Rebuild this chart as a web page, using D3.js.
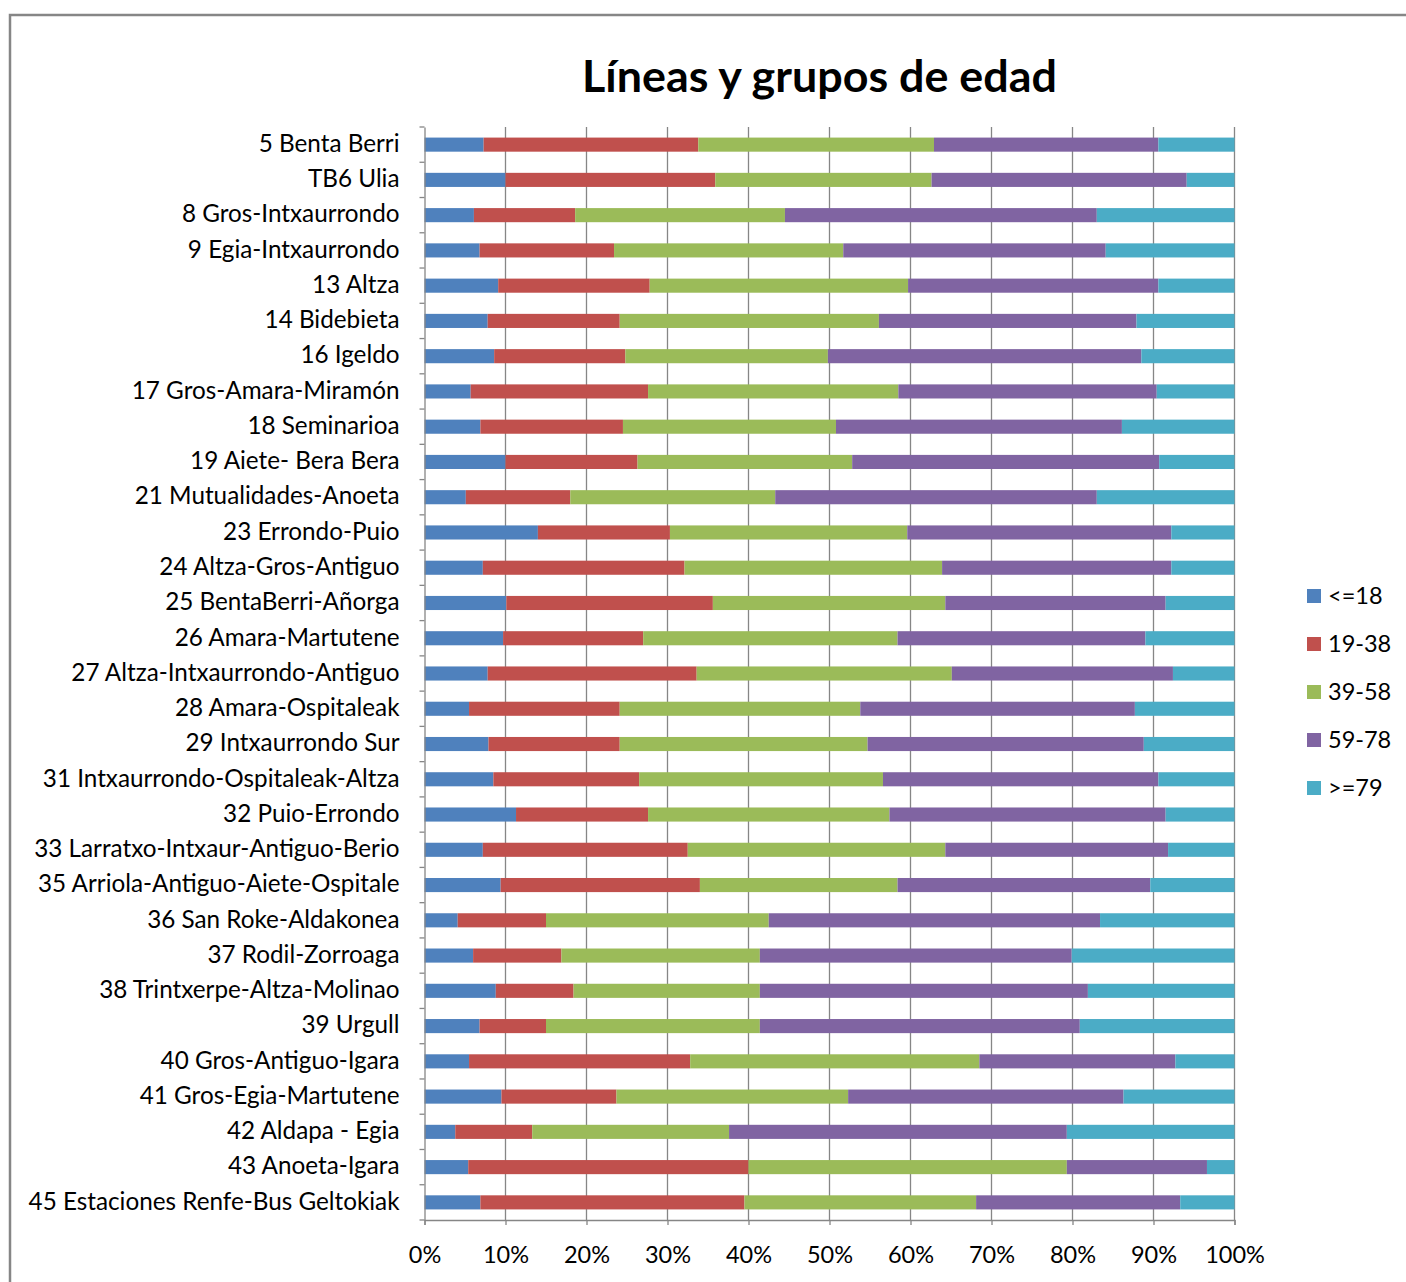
<!DOCTYPE html>
<html>
<head>
<meta charset="utf-8">
<script src="https://cdn.jsdelivr.net/npm/d3@7"></script>
<style>
  html, body { margin: 0; padding: 0; background: #fff; }
  svg { display: block; }
  text { font-family: Lato, "Open Sans", sans-serif; fill: #000; }
</style>
</head>
<body>
<svg id="chart" width="1406" height="1282"></svg>
<script>
const title = "Líneas y grupos de edad";
const categories = [
  "5 Benta Berri", "TB6 Ulia", "8 Gros-Intxaurrondo", "9 Egia-Intxaurrondo", "13 Altza",
  "14 Bidebieta", "16 Igeldo", "17 Gros-Amara-Miramón", "18 Seminarioa", "19 Aiete- Bera Bera",
  "21 Mutualidades-Anoeta", "23 Errondo-Puio", "24 Altza-Gros-Antiguo", "25 BentaBerri-Añorga",
  "26 Amara-Martutene", "27 Altza-Intxaurrondo-Antiguo", "28 Amara-Ospitaleak", "29 Intxaurrondo Sur",
  "31 Intxaurrondo-Ospitaleak-Altza", "32 Puio-Errondo", "33 Larratxo-Intxaur-Antiguo-Berio",
  "35 Arriola-Antiguo-Aiete-Ospitale", "36 San Roke-Aldakonea", "37 Rodil-Zorroaga",
  "38 Trintxerpe-Altza-Molinao", "39 Urgull", "40 Gros-Antiguo-Igara", "41 Gros-Egia-Martutene",
  "42 Aldapa - Egia", "43 Anoeta-Igara", "45 Estaciones Renfe-Bus Geltokiak"
];
const seriesNames = ["<=18", "19-38", "39-58", "59-78", ">=79"];
const seriesColors = ["#4F81BD", "#C0504D", "#9BBB59", "#8064A2", "#4BACC6"];
const age0_18 = [7.3, 10.0, 6.1, 6.8, 9.1, 7.8, 8.6, 5.7, 6.9, 10.0, 5.1, 14.0, 7.2, 10.1, 9.7, 7.8, 5.5, 7.9, 8.5, 11.3, 7.2, 9.4, 4.1, 6.0, 8.8, 6.8, 5.5, 9.5, 3.8, 5.4, 6.9];
const age19_38 = [26.5, 25.9, 12.5, 16.6, 18.7, 16.3, 16.2, 21.9, 17.6, 16.3, 12.9, 16.3, 24.9, 25.5, 17.3, 25.8, 18.6, 16.2, 18.0, 16.3, 25.3, 24.6, 10.9, 10.9, 9.6, 8.2, 27.3, 14.2, 9.5, 34.6, 32.6];
const age39_58 = [29.1, 26.7, 25.9, 28.3, 31.9, 32.0, 25.0, 30.9, 26.3, 26.5, 25.3, 29.3, 31.8, 28.7, 31.4, 31.5, 29.7, 30.6, 30.1, 29.8, 31.8, 24.4, 27.5, 24.5, 23.0, 26.4, 35.7, 28.6, 24.3, 39.3, 28.6];
const age59_78 = [27.7, 31.5, 38.5, 32.4, 30.9, 31.8, 38.7, 31.9, 35.3, 37.9, 39.7, 32.6, 28.3, 27.2, 30.6, 27.3, 33.9, 34.1, 34.0, 34.1, 27.5, 31.2, 40.9, 38.5, 40.5, 39.5, 24.2, 34.0, 41.7, 17.3, 25.2];
const age79 = [9.4, 5.9, 17.0, 15.9, 9.4, 12.1, 11.5, 9.6, 13.9, 9.3, 17.0, 7.8, 7.8, 8.5, 11.0, 7.6, 12.3, 11.2, 9.4, 8.5, 8.2, 10.4, 16.6, 20.1, 18.1, 19.1, 7.3, 13.7, 20.7, 3.4, 6.7];
const xTickValues = [0, 0.1, 0.2, 0.3, 0.4, 0.5, 0.6, 0.7, 0.8, 0.9, 1.0];

const seriesData = [age0_18, age19_38, age39_58, age59_78, age79];
const rows = categories.map((c, i) => {
  const r = { cat: c };
  seriesNames.forEach((s, j) => { r[s] = seriesData[j][i]; });
  return r;
});

const svg = d3.select("#chart");
const W = 1406, H = 1282;
const plot = { left: 424.5, right: 1234.5, top: 127, bottom: 1220 };

// frame
svg.append("path")
  .attr("d", `M10,${H + 5} L10,15 L${W + 5},15`)
  .attr("fill", "none").attr("stroke", "#868686").attr("stroke-width", 2.5);

// title
const t = svg.append("text")
  .attr("x", 819.5).attr("y", 92)
  .attr("text-anchor", "middle")
  .style("font-weight", "bold")
  .style("font-size", "40px")
  .text(title);
const tw = t.node().getComputedTextLength();
t.style("font-size", (40 * 475 / tw).toFixed(2) + "px");

const x = d3.scaleLinear().domain([0, 1]).range([plot.left, plot.right]);
const y = d3.scaleBand().domain(categories).range([plot.top, plot.bottom])
  .paddingInner(0.6).paddingOuter(0.3);

// gridlines
svg.append("g")
  .selectAll("line").data(xTickValues.slice(1)).join("line")
  .attr("x1", d => x(d)).attr("x2", d => x(d))
  .attr("y1", plot.top).attr("y2", plot.bottom)
  .attr("stroke", "#868686").attr("stroke-width", 1.3);

// stacked bars
const stack = d3.stack().keys(seriesNames).offset(d3.stackOffsetExpand);
const stacked = stack(rows);
const color = d3.scaleOrdinal().domain(seriesNames).range(seriesColors);

svg.append("g").selectAll("g").data(stacked).join("g")
  .attr("fill", d => color(d.key))
  .selectAll("rect").data(d => d).join("rect")
  .attr("x", d => x(d[0]))
  .attr("width", d => x(d[1]) - x(d[0]))
  .attr("y", d => y(d.data.cat))
  .attr("height", y.bandwidth());

// x axis
const xAxis = d3.axisBottom(x).tickValues(xTickValues)
  .tickFormat(d3.format(".0%")).tickSize(5).tickPadding(21);
const gx = svg.append("g").attr("transform", `translate(0,${plot.bottom})`).call(xAxis);
gx.select(".domain").attr("stroke", "#868686").attr("stroke-width", 1.3);
gx.selectAll(".tick line").attr("stroke", "#868686").attr("stroke-width", 1.3);
gx.selectAll(".tick text").style("font-size", "23.5px").attr("fill", "#000");

// y axis (labels)
const yAxis = d3.axisLeft(y).tickSize(0).tickPadding(25);
const gy = svg.append("g").attr("transform", `translate(${plot.left},0)`).call(yAxis);
gy.select(".domain").attr("stroke", "#868686").attr("stroke-width", 1.3);
const yLabels = gy.selectAll(".tick text").style("font-size", "21px").attr("fill", "#000").attr("dy", "0.3em");
// fit the longest label width to the reference (371px)
let maxW = 0;
yLabels.each(function () { maxW = Math.max(maxW, this.getComputedTextLength()); });
yLabels.style("font-size", (21 * 371 / maxW).toFixed(2) + "px");

// y axis tick marks at category boundaries
const step = y.step();
const boundaries = categories.map(c => y(c) - step * y.paddingInner() / 2).concat([plot.bottom]);
svg.append("g").selectAll("line").data(boundaries).join("line")
  .attr("x1", plot.left - 5).attr("x2", plot.left)
  .attr("y1", d => d).attr("y2", d => d)
  .attr("stroke", "#868686").attr("stroke-width", 1.3);

// legend
const legend = svg.append("g").attr("transform", "translate(1307,589)");
const li = legend.selectAll("g").data(seriesNames).join("g")
  .attr("transform", (d, i) => `translate(0,${i * 48})`);
li.append("rect").attr("width", 14).attr("height", 14).attr("fill", d => color(d));
li.append("text").attr("x", 21).attr("y", 7).attr("dy", "0.35em")
  .style("font-size", "23.5px").text(d => d);
</script>
</body>
</html>
